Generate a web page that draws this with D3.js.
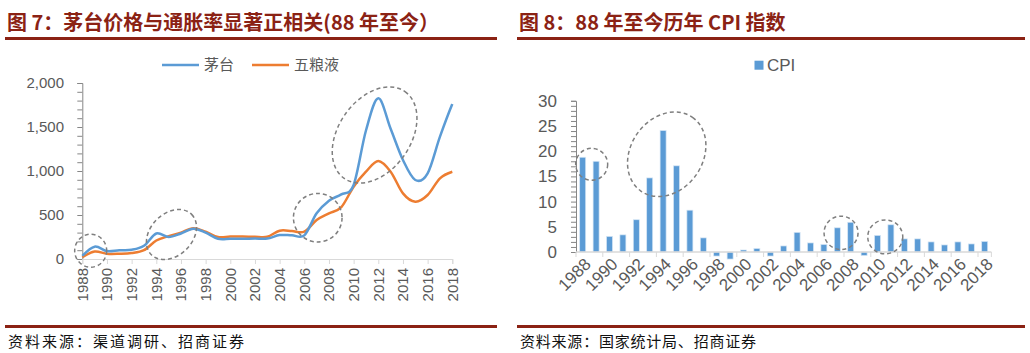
<!DOCTYPE html>
<html>
<head>
<meta charset="utf-8">
<script src="https://cdn.jsdelivr.net/npm/d3@7"></script>
<style>
  body { margin: 0; background: #fff; }
  text { font-family: "Liberation Sans", Arial, "Noto Sans CJK SC", sans-serif; }
  .cjk { font-family: "Noto Sans CJK SC", sans-serif; }
</style>
</head>
<body>
<script>
// left chart: price of moutai / wuliangye
const years = d3.range(1988, 2019);
const moutai = [35, 140, 90, 100, 105, 150, 290, 250, 290, 345, 300, 230, 230, 230, 232, 232, 272, 269, 269, 519, 663, 735, 841, 1460, 1826, 1480, 1125, 898, 973, 1390, 1761];
const wuliangye = [20, 85, 60, 60, 68, 100, 210, 260, 300, 350, 310, 250, 255, 255, 252, 252, 322, 318, 311, 443, 519, 590, 822, 992, 1113, 992, 746, 651, 727, 917, 992];
const leftTicks = [0, 500, 1000, 1500, 2000];

// right chart: CPI
const cpiYears = d3.range(1988, 2019).map(String);
const cpi = [18.8, 18.0, 3.1, 3.4, 6.4, 14.7, 24.1, 17.1, 8.3, 2.8, -0.8, -1.4, 0.4, 0.7, -0.8, 1.2, 3.9, 1.8, 1.5, 4.8, 5.9, -0.7, 3.3, 5.4, 2.6, 2.6, 2.0, 1.4, 2.0, 1.6, 2.1];
const rightTicks = [0, 5, 10, 15, 20, 25, 30];

// dashed circles (centre in data units)
const leftMarks = [
  {x: 1988.68, y: 94, rx: 16, ry: 16.5, rot: 0},
  {x: 1995.23, y: 278, rx: 28.5, ry: 21, rot: -45},
  {x: 2007.09, y: 469, rx: 24.3, ry: 24.3, rot: 0},
  {x: 2011.7, y: 1409, rx: 53, ry: 36, rot: -55}
];
const rightMarks = [
  {x: 1988.67, y: 17.4, rx: 16, ry: 16, rot: 0},
  {x: 1994.27, y: 19.4, rx: 45, ry: 36, rot: -55},
  {x: 2007.28, y: 3.8, rx: 17, ry: 16.7, rot: 0},
  {x: 2010.58, y: 3.0, rx: 17.5, ry: 17, rot: 0}
];

const red = "#8B2214";
const blue = "#5B9BD5";
const orange = "#ED7D31";
const grey = "#595959";

const svg = d3.select("body").append("svg")
  .attr("width", 1030)
  .attr("height", 353);

// titles and rules
function frame(x0, x1, title, source) {
  svg.append("text").attr("class", "cjk")
    .attr("x", x0 + 2).attr("y", 30)
    .attr("font-size", 20).attr("font-weight", "bold")
    .attr("fill", red).text(title);
  svg.append("rect").attr("x", x0).attr("y", 37).attr("width", x1 - x0).attr("height", 3).attr("fill", red);
  svg.append("rect").attr("x", x0).attr("y", 325).attr("width", x1 - x0).attr("height", 3).attr("fill", red);
  svg.append("text").attr("class", "cjk")
    .attr("x", x0 + 3).attr("y", 347)
    .attr("font-size", 15).attr("fill", "#111")
    .attr("textLength", 236).attr("lengthAdjust", "spacing")
    .text(source);
}
frame(5, 497, "图 7：茅台价格与通胀率显著正相关(88 年至今）", "资料来源：渠道调研、招商证券");
frame(517, 1025, "图 8：88 年至今历年 CPI 指数", "资料来源：国家统计局、招商证券");

function ellipses(g, marks, fx, fy) {
  g.selectAll("ellipse.mark").data(marks).join("ellipse")
    .attr("class", "mark")
    .attr("transform", d => "translate(" + fx(d.x) + "," + fy(d.y) + ") rotate(" + d.rot + ")")
    .attr("rx", d => d.rx).attr("ry", d => d.ry)
    .attr("fill", "none").attr("stroke", "#7f7f7f")
    .attr("stroke-width", 1.5).attr("stroke-dasharray", "4,3");
}

// ---- left chart
const xL = d3.scaleLinear().domain([1988, 2018]).range([82.3, 452.3]);
const yL = d3.scaleLinear().domain([0, 2000]).range([259, 83]);
const gL = svg.append("g");

const yAxisL = d3.axisLeft(yL).tickValues(d3.range(0, 2001, 100)).tickSize(5).tickFormat("");
gL.append("g").attr("transform", "translate(82.3,0)").call(yAxisL)
  .call(g => g.select(".domain").attr("stroke", "#868686"))
  .call(g => g.selectAll(".tick line").attr("stroke", "#868686"));
gL.selectAll("text.ylab").data(leftTicks).join("text")
  .attr("class", "ylab")
  .attr("x", 64).attr("y", d => yL(d)).attr("dy", "0.35em")
  .attr("text-anchor", "end").attr("font-size", 15).attr("fill", grey)
  .text(d3.format(","));

const xAxisL = d3.axisBottom(xL).tickValues(d3.range(1988, 2019, 2)).tickSize(5).tickFormat("");
gL.append("g").attr("transform", "translate(0,259)").call(xAxisL)
  .call(g => g.selectAll(".domain, .tick line").attr("stroke", "#d9d9d9"));
gL.selectAll("text.xlab").data(d3.range(1988, 2019, 2)).join("text")
  .attr("class", "xlab")
  .attr("transform", d => "translate(" + xL(d) + ",268) rotate(-90)")
  .attr("dy", "0.35em")
  .attr("text-anchor", "end").attr("font-size", 15).attr("fill", grey)
  .text(d => d);

const line = d3.line().x((d, i) => xL(years[i])).y(d => yL(d)).curve(d3.curveCardinal.tension(0));
gL.append("path").attr("d", line(wuliangye)).attr("fill", "none").attr("stroke", orange).attr("stroke-width", 2.5);
gL.append("path").attr("d", line(moutai)).attr("fill", "none").attr("stroke", blue).attr("stroke-width", 2.5);
ellipses(gL, leftMarks, xL, yL);

// legend
[["茅台", blue, 162], ["五粮液", orange, 252]].forEach(([name, c, x]) => {
  gL.append("line").attr("x1", x).attr("x2", x + 37).attr("y1", 65).attr("y2", 65)
    .attr("stroke", c).attr("stroke-width", 2.5);
  gL.append("text").attr("class", "cjk").attr("x", x + 42).attr("y", 70)
    .attr("font-size", 15).attr("fill", grey).text(name);
});

// ---- right chart
const xR = d3.scaleBand().domain(cpiYears).range([576, 991.4]);
const yR = d3.scaleLinear().domain([0, 30]).range([252, 100.8]);
const xRc = d3.scaleLinear().domain([1988, 2018]).range([xR("1988") + xR.bandwidth() / 2, xR("2018") + xR.bandwidth() / 2]);
const gR = svg.append("g");

const yAxisR = d3.axisLeft(yR).tickValues(d3.range(0, 31, 1)).tickSize(5).tickFormat("");
gR.append("g").attr("transform", "translate(576,0)").call(yAxisR)
  .call(g => g.select(".domain").attr("stroke", "#868686"))
  .call(g => g.selectAll(".tick line").attr("stroke", "#868686"));
gR.selectAll("text.ylab").data(rightTicks).join("text")
  .attr("class", "ylab")
  .attr("x", 557).attr("y", d => yR(d)).attr("dy", "0.35em")
  .attr("text-anchor", "end").attr("font-size", 17).attr("fill", grey)
  .text(d => d);

gR.selectAll("rect.bar").data(cpi).join("rect")
  .attr("class", "bar")
  .attr("x", (d, i) => xR(cpiYears[i]) + xR.bandwidth() / 2 - 3)
  .attr("width", 6)
  .attr("y", d => yR(Math.max(0, d)))
  .attr("height", d => Math.abs(yR(d) - yR(0)))
  .attr("fill", blue).attr("stroke", "#d6e6f5").attr("stroke-width", 0.7);

// x axis: line + ticks every two categories
const tickPos = d3.range(0, 31, 2).map(i => xR.range()[0] + i * xR.step()).concat([xR.range()[1]]);
gR.append("line").attr("x1", 576).attr("x2", xR.range()[1]).attr("y1", yR(0)).attr("y2", yR(0))
  .attr("stroke", "#d9d9d9").attr("stroke-width", 1.5);
gR.selectAll("line.xt").data(tickPos).join("line")
  .attr("class", "xt")
  .attr("x1", d => d).attr("x2", d => d).attr("y1", yR(0)).attr("y2", yR(0) + 5)
  .attr("stroke", "#d9d9d9");
gR.selectAll("text.xlab").data(cpiYears.filter((d, i) => i % 2 === 0)).join("text")
  .attr("class", "xlab")
  .attr("transform", d => "translate(" + (xR(d) + xR.bandwidth() / 2 + 5) + ",261) rotate(-45)")
  .attr("dy", "0.35em")
  .attr("text-anchor", "end").attr("font-size", 17).attr("fill", grey)
  .text(d => d);

ellipses(gR, rightMarks, xRc, yR);

gR.append("rect").attr("x", 754.5).attr("y", 60.7).attr("width", 9).attr("height", 9).attr("fill", blue);
gR.append("text").attr("x", 767).attr("y", 71).attr("font-size", 17).attr("fill", grey).text("CPI");
</script>
</body>
</html>
